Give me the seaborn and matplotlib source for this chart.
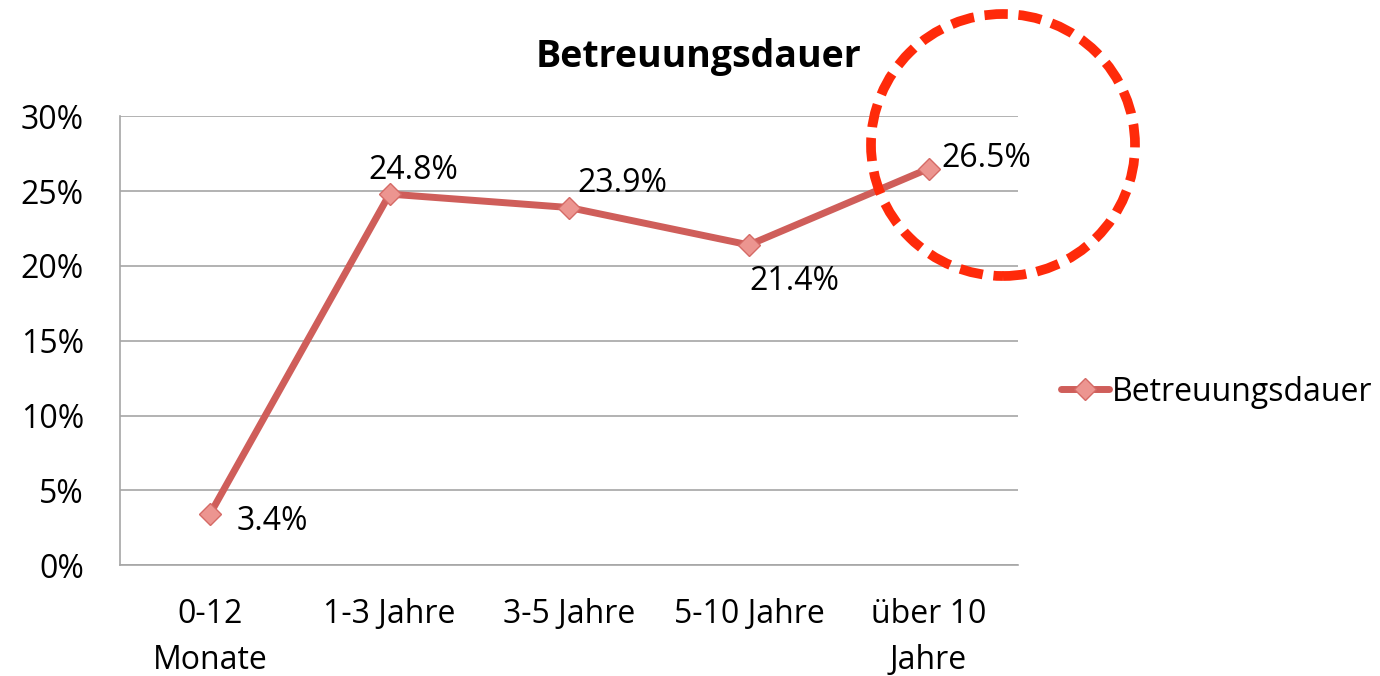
import pandas as pd
import matplotlib.pyplot as plt
import seaborn as sns
from matplotlib.patches import Ellipse

# Data
categories = ['0-12\nMonate', '1-3 Jahre', '3-5 Jahre', '5-10 Jahre', 'über 10\nJahre']
values = [3.4, 24.8, 23.9, 21.4, 26.5]
labels = ['3.4%', '24.8%', '23.9%', '21.4%', '26.5%']
# label offsets (points) and alignment
offsets = [(19, -5), (17, 17), (6, 17), (0, -26), (9, 7)]
aligns = ['left', 'center', 'left', 'left', 'left']

df = pd.DataFrame({'pos': range(len(categories)), 'value': values})

sns.set_style('white')
plt.rcParams['font.family'] = ['Open Sans', 'DejaVu Sans']
plt.rcParams['text.color'] = 'black'
plt.rcParams['xtick.color'] = 'black'
plt.rcParams['ytick.color'] = 'black'

fig = plt.figure(figsize=(13.8, 6.76), dpi=100)
ax = fig.add_axes([0.087, 0.164, 0.651, 0.664])

line_color = '#cf5e5a'
sns.lineplot(data=df, x='pos', y='value', ax=ax, color=line_color, linewidth=5,
             marker='D', markersize=11, markerfacecolor='#ec9590',
             markeredgecolor='#d56a66', markeredgewidth=1, label='Betreuungsdauer',
             legend=False)

ax.set_xlim(-0.5, len(categories) - 0.5)
ax.set_ylim(0, 30)
ax.set_yticks([0, 5, 10, 15, 20, 25, 30])
ax.set_yticklabels([f'{v}%' for v in [0, 5, 10, 15, 20, 25, 30]])
ax.set_xticks(range(len(categories)))
ax.set_xticklabels(categories, linespacing=1.5)
ax.tick_params(axis='y', labelsize=23, pad=26, length=0)
ax.tick_params(axis='x', labelsize=23, pad=24, length=0)
ax.set_xlabel('')
ax.set_ylabel('')
ax.grid(axis='y', color='#a6a6a6', linewidth=1.2)
ax.grid(axis='x', visible=False)
for s in ['top', 'right']:
    ax.spines[s].set_visible(False)
for s in ['left', 'bottom']:
    ax.spines[s].set_color('#a6a6a6')
    ax.spines[s].set_linewidth(1.2)

for i, (v, lab) in enumerate(zip(values, labels)):
    ax.annotate(lab, (i, v), xytext=offsets[i], textcoords='offset points',
                ha=aligns[i], va='center', fontsize=23)

fig.text(0.506, 0.915, 'Betreuungsdauer', ha='center', va='center',
         fontsize=27, fontweight='bold')

handles, _ = ax.get_legend_handles_labels()
fig.legend(handles=handles, labels=['Betreuungsdauer'], loc='center left',
           bbox_to_anchor=(0.748, 0.42), frameon=False, fontsize=23,
           handlelength=1.5, handletextpad=0.1)

# red dashed highlight circle
circle = Ellipse((1003 / 1380, 1 - 145 / 676), 264 / 1380, 262 / 676,
                 transform=fig.transFigure, fill=False, edgecolor='#ff2a0a',
                 linewidth=7, linestyle=(0, (2.4, 1.1)), clip_on=False)
fig.add_artist(circle)

plt.savefig('out.png', dpi=100)
